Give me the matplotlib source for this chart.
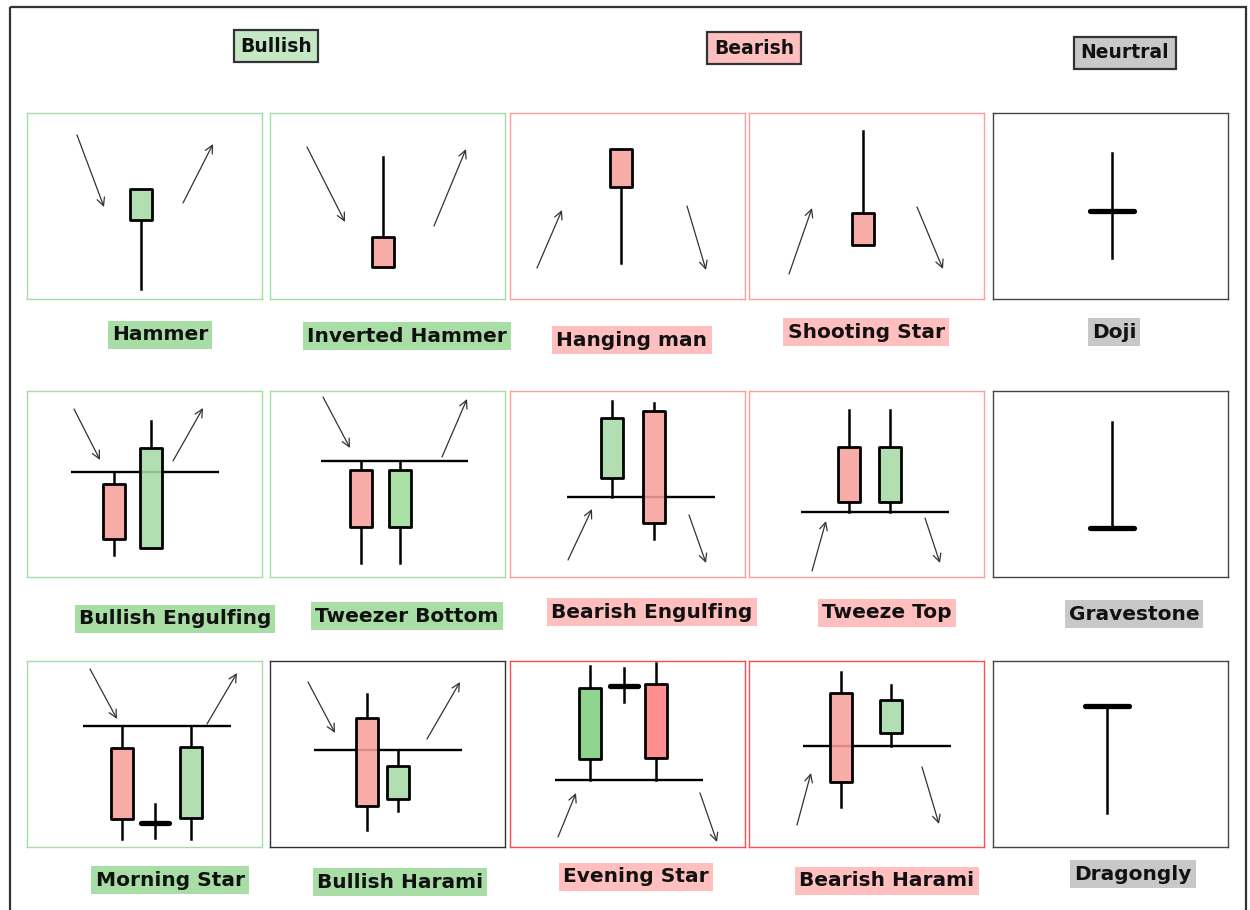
import matplotlib
matplotlib.use("Agg")
import matplotlib.pyplot as plt
from matplotlib.patches import Rectangle

# названия паттернов и группы (бычий / медвежий / нейтральный)
patterns = ["Hammer", "Inverted Hammer", "Hanging man", "Shooting Star", "Doji",
            "Bullish Engulfing", "Tweezer Bottom", "Bearish Engulfing", "Tweeze Top", "Gravestone",
            "Morning Star", "Bullish Harami", "Evening Star", "Bearish Harami", "Dragongly"]
groups = ["bull", "bull", "bear", "bear", "neutral",
          "bull", "bull", "bear", "bear", "neutral",
          "bull", "bull", "bear", "bear", "neutral"]
headers = ["Bullish", "Bearish", "Neurtral"]

# свечи: (x, open, high, low, close) в локальных единицах панели
hammer = [(114, 79, 110, 10, 110)]
inv_hammer = [(113, 62, 142, 32, 32)]
hanging_man = [(111, 150, 150, 36, 112)]
shooting_star = [(114, 86, 168, 54, 54)]
doji = [(119, 88, 146, 41, 88)]
bull_engulf = [(87, 93, 104, 22, 38), (124, 29, 156, 29, 129)]
tweezer_bottom = [(91, 107, 116, 14, 50), (130, 50, 116, 14, 107)]
bear_engulf = [(102, 99, 176, 80, 159), (144, 166, 174, 38, 54)]
tweeze_top = [(100, 130, 167, 65, 75), (141, 75, 167, 65, 130)]
gravestone = [(119, 49, 155, 49, 49)]
morning_star = [(95, 99, 121, 8, 28), (128, 24, 43, 9, 24), (164, 29, 121, 8, 100)]
bull_harami = [(97, 129, 153, 17, 41), (128, 48, 97, 36, 81)]
evening_star = [(80, 88, 181, 67, 159), (114, 161, 179, 145, 161), (146, 163, 184, 67, 89)]
bear_harami = [(92, 154, 175, 40, 65), (142, 114, 162, 101, 147)]
dragonfly = [(114, 141, 141, 34, 141)]
candles = [hammer, inv_hammer, hanging_man, shooting_star, doji,
           bull_engulf, tweezer_bottom, bear_engulf, tweeze_top, gravestone,
           morning_star, bull_harami, evening_star, bear_harami, dragonfly]

# линия уровня: (уровень, x начала, x конца)
levels = [None, None, None, None, None,
          (105, 44, 192), (116, 51, 198), (80, 57, 205), (65, 52, 200), None,
          (121, 56, 204), (97, 44, 192), (67, 45, 193), (101, 54, 202), None]

# стрелки тренда: (x0, y0, x1, y1)
arrows_in = [(50, 164, 77, 92), (37, 152, 75, 77), (27, 31, 52, 89), (40, 25, 63, 91), None,
             (47, 168, 73, 117), (53, 180, 80, 129), (58, 17, 82, 68), (63, 6, 77, 56), None,
             (63, 178, 90, 128), (38, 165, 65, 114), (48, 10, 66, 54), (48, 22, 62, 74), None]
arrows_out = [(156, 96, 186, 155), (164, 73, 196, 150), (177, 93, 196, 29), (168, 92, 194, 30), None,
              (146, 116, 176, 169), (172, 120, 197, 178), (179, 62, 196, 14), (176, 59, 191, 14), None,
              (180, 123, 210, 174), (157, 108, 190, 165), (190, 54, 207, 5), (173, 80, 190, 23), None]

# оформление
panel_edge = ["#a6dca6", "#a6dca6", "#ff9c9c", "#ff9c9c", "#444444",
              "#a6dca6", "#a6dca6", "#ff9c9c", "#ff9c9c", "#444444",
              "#a6dca6", "#333333", "#ff4a4a", "#ff5050", "#444444"]
label_xy = [(160, 335), (407, 336), (632, 340), (866, 332), (1114, 332),
            (175, 619), (407, 616), (652, 612), (887, 613), (1134, 614),
            (170, 880), (400, 882), (636, 877), (887, 881), (1133, 874)]
header_xy = [(276, 46), (754, 48), (1125, 53)]
label_fill = {"bull": "#a8dea6", "bear": "#ffbfbf", "neutral": "#c8c8c8"}
header_fill = ["#c4e8c4", "#ffbfbf", "#c8c8c8"]
col_left = [27, 270, 510, 749, 993]
row_top = [113, 391, 661]
PW, PH = 235, 186
W, H = 1250, 910

fig = plt.figure(figsize=(W / 100, H / 100), dpi=100)
bg = fig.add_axes([0, 0, 1, 1])
bg.set_xlim(0, W)
bg.set_ylim(H, 0)
bg.axis("off")
bg.add_patch(Rectangle((10, 7), 1236, 920, fill=False, ec="#333333", lw=1.6))

for txt, (x, y), fc in zip(headers, header_xy, header_fill):
    bg.text(x, y, txt, ha="center", va="center", fontsize=13.5, fontweight="bold",
            color="#111111", family="DejaVu Sans",
            bbox=dict(boxstyle="square,pad=0.35", fc=fc, ec="#333333", lw=1.6))

for name, grp, (x, y) in zip(patterns, groups, label_xy):
    bg.text(x, y, name, ha="center", va="center", fontsize=14.5, fontweight="bold",
            color="#111111", family="DejaVu Sans",
            bbox=dict(boxstyle="square,pad=0.2", fc=label_fill[grp], ec="none"))

for i in range(len(patterns)):
    r, c = divmod(i, 5)
    left, top = col_left[c], row_top[r]
    ax = fig.add_axes([left / W, 1 - (top + PH) / H, PW / W, PH / H])
    ax.set_xlim(0, PW)
    ax.set_ylim(0, PH)
    ax.set_xticks([])
    ax.set_yticks([])
    for sp in ax.spines.values():
        sp.set_color(panel_edge[i])
        sp.set_linewidth(1.0)

    if levels[i] is not None:
        lv, x0, x1 = levels[i]
        ax.plot([x0, x1], [lv, lv], color="black", lw=1.7, zorder=1, solid_capstyle="butt")

    up_col, dn_col = "#a6dba6", "#f8a19b"
    if patterns[i] == "Evening Star":
        up_col, dn_col = "#7fcf7f", "#ff8080"
    if patterns[i] == "Tweezer Bottom":
        up_col = "#9edc98"

    single = len(candles[i]) == 1
    for (x, o, hi, lo, cl) in candles[i]:
        if o == cl:
            # доджи: тонкая тень и толстая перекладина
            half = 22 if single else 14
            ax.plot([x, x], [lo, hi], color="black", lw=1.8, zorder=2)
            ax.plot([x - half, x + half], [o, o], color="black", lw=3.8,
                    solid_capstyle="round", zorder=3)
            continue
        btop, bbot = max(o, cl), min(o, cl)
        ax.plot([x, x], [btop, hi], color="black", lw=1.8, zorder=2)
        ax.plot([x, x], [lo, bbot], color="black", lw=1.8, zorder=2)
        fc = up_col if cl > o else dn_col
        bw = 22
        ax.add_patch(Rectangle((x - bw / 2, bbot), bw, btop - bbot, fc=fc, ec="none",
                               alpha=0.88, zorder=3))
        ax.add_patch(Rectangle((x - bw / 2, bbot), bw, btop - bbot, fill=False, ec="black",
                               lw=2.0, joinstyle="round", zorder=4))

    for arr in (arrows_in[i], arrows_out[i]):
        if arr is None:
            continue
        x0, y0, x1, y1 = arr
        ax.annotate("", xy=(x1, y1), xytext=(x0, y0),
                    arrowprops=dict(arrowstyle="->", color="#333333", lw=0.9,
                                    shrinkA=0, shrinkB=0, mutation_scale=14))

fig.savefig("out.png", dpi=100)
